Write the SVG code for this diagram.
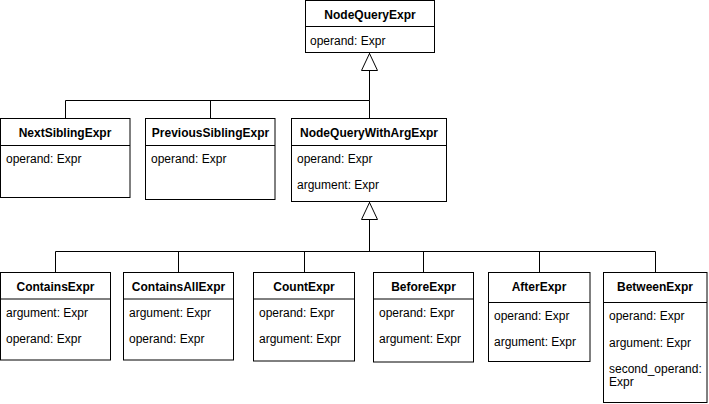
<svg xmlns="http://www.w3.org/2000/svg" width="709" height="404" viewBox="0 0 709 404">
<defs>
<style>
.box{fill:#fff;stroke:#000;stroke-width:1}
.div{stroke:#000;stroke-width:1}
.t{font-family:"Liberation Sans",Arial,Helvetica,sans-serif;font-size:12px;font-weight:bold;text-anchor:middle;fill:#000}
.a{font-family:"Liberation Sans",Arial,Helvetica,sans-serif;font-size:12px;fill:#000}
.c{fill:none;stroke:#000;stroke-width:1}
</style>
<marker id="inh" viewBox="0 0 18 17" refX="18" refY="8.5" markerWidth="18" markerHeight="17" markerUnits="userSpaceOnUse" orient="auto">
<path d="M0.5,0.5 L17.5,8.5 L0.5,16.5 Z" fill="#fff" stroke="#000" stroke-width="1"/>
</marker>
</defs>
<rect width="709" height="404" fill="#fff"/>
<g id="connectors">
<path class="c" d="M65.5,118.5 V100.5 H369.5 M210.5,118.5 V100.5 M369.5,118.5 V100.5"/>
<path class="c" d="M369.5,100.5 V53" marker-end="url(#inh)"/>
<path class="c" d="M55.5,272.5 V251.5 H655.5 V272.5 M178.5,272.5 V251.5 M304.5,272.5 V251.5 M423.5,272.5 V251.5 M539.5,272.5 V251.5"/>
<path class="c" d="M369.5,251.5 V202" marker-end="url(#inh)"/>
</g>
<g id="NodeQueryExpr">
<rect class="box" x="305.5" y="0.5" width="129" height="52"/>
<line class="div" x1="305.5" y1="26.5" x2="434.5" y2="26.5"/>
<text class="t" x="370" y="18.5">NodeQueryExpr</text>
<text class="a" x="310" y="44.5">operand: Expr</text>
</g>
<g id="NextSiblingExpr">
<rect class="box" x="0.5" y="118.5" width="129.5" height="79"/>
<line class="div" x1="0.5" y1="145.5" x2="130" y2="145.5"/>
<text class="t" x="65" y="136.5">NextSiblingExpr</text>
<text class="a" x="6" y="163">operand: Expr</text>
</g>
<g id="PreviousSiblingExpr">
<rect class="box" x="145.5" y="118.5" width="129.5" height="81"/>
<line class="div" x1="145.5" y1="145.5" x2="275" y2="145.5"/>
<text class="t" x="210.5" y="136.5">PreviousSiblingExpr</text>
<text class="a" x="151" y="163">operand: Expr</text>
</g>
<g id="NodeQueryWithArgExpr">
<rect class="box" x="291.5" y="118.5" width="155" height="83"/>
<line class="div" x1="291.5" y1="145.5" x2="446.5" y2="145.5"/>
<text class="t" x="369" y="136.5">NodeQueryWithArgExpr</text>
<text class="a" x="297" y="163">operand: Expr</text>
<text class="a" x="297" y="189">argument: Expr</text>
</g>
<g id="ContainsExpr">
<rect class="box" x="0.5" y="272.5" width="110" height="87.5"/>
<line class="div" x1="0.5" y1="299" x2="110.5" y2="299"/>
<text class="t" x="55.5" y="290.5">ContainsExpr</text>
<text class="a" x="6" y="316.5">argument: Expr</text>
<text class="a" x="6" y="342.5">operand: Expr</text>
</g>
<g id="ContainsAllExpr">
<rect class="box" x="123.5" y="272.5" width="110" height="87.5"/>
<line class="div" x1="123.5" y1="299" x2="233.5" y2="299"/>
<text class="t" x="178.5" y="290.5">ContainsAllExpr</text>
<text class="a" x="129" y="316.5">argument: Expr</text>
<text class="a" x="129" y="342.5">operand: Expr</text>
</g>
<g id="CountExpr">
<rect class="box" x="253.5" y="272.5" width="101" height="88.5"/>
<line class="div" x1="253.5" y1="299" x2="354.5" y2="299"/>
<text class="t" x="304" y="290.5">CountExpr</text>
<text class="a" x="259" y="316.5">operand: Expr</text>
<text class="a" x="259" y="342.5">argument: Expr</text>
</g>
<g id="BeforeExpr">
<rect class="box" x="373.5" y="272.5" width="100" height="89.5"/>
<line class="div" x1="373.5" y1="299" x2="473.5" y2="299"/>
<text class="t" x="423.5" y="290.5">BeforeExpr</text>
<text class="a" x="379" y="316.5">operand: Expr</text>
<text class="a" x="379" y="342.5">argument: Expr</text>
</g>
<g id="AfterExpr">
<rect class="box" x="488.5" y="272.5" width="101.5" height="89"/>
<line class="div" x1="488.5" y1="302.5" x2="590" y2="302.5"/>
<text class="t" x="539" y="290.5">AfterExpr</text>
<text class="a" x="494" y="320">operand: Expr</text>
<text class="a" x="494" y="346">argument: Expr</text>
</g>
<g id="BetweenExpr">
<rect class="box" x="603.5" y="272.5" width="103.5" height="130"/>
<line class="div" x1="603.5" y1="302.5" x2="707" y2="302.5"/>
<text class="t" x="655" y="290.5">BetweenExpr</text>
<text class="a" x="609" y="320">operand: Expr</text>
<text class="a" x="609" y="346.5">argument: Expr</text>
<text class="a" x="609" y="373">second_operand:</text>
<text class="a" x="609" y="386">Expr</text>
</g>
</svg>
